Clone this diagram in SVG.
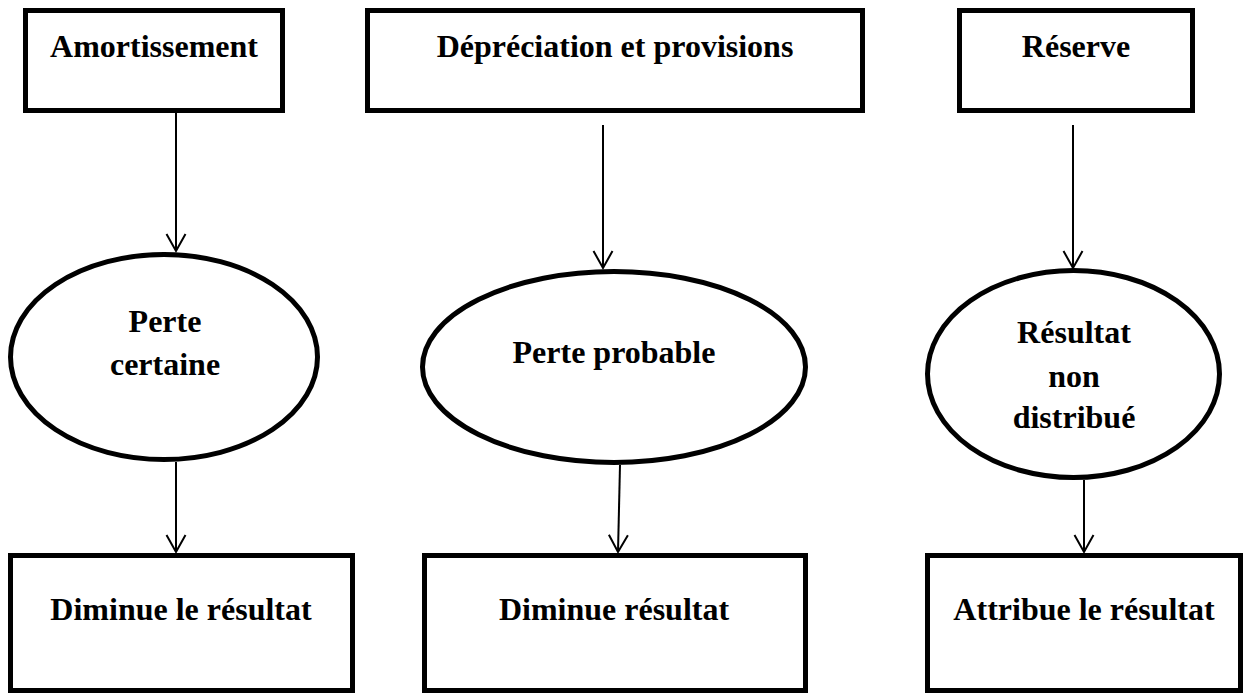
<svg xmlns="http://www.w3.org/2000/svg" width="1246" height="693" viewBox="0 0 1246 693">
  <style>
    .box { fill: #ffffff; stroke: #000000; stroke-width: 5; }
    .oval { fill: #ffffff; stroke: #000000; stroke-width: 5; }
    .lbl { font-family: "Liberation Serif", "Times New Roman", serif; font-weight: bold; font-size: 32px; fill: #000000; text-anchor: middle; }
    .conn { stroke: #000000; stroke-width: 2; fill: none; marker-end: url(#arrow); }
  </style>
  <defs>
    <marker id="arrow" markerUnits="userSpaceOnUse" viewBox="-2 -2 22 23" markerWidth="22" markerHeight="23" refX="17" refY="9.5" orient="auto">
      <path d="M0,0 L17,9.5 L0,19" fill="none" stroke="#000000" stroke-width="2"/>
    </marker>
  </defs>
  <rect width="1246" height="693" fill="#ffffff"/>

  <g id="connectors">
    <line class="conn" x1="176" y1="113" x2="176" y2="251"/>
    <line class="conn" x1="603" y1="125" x2="603" y2="268"/>
    <line class="conn" x1="1073" y1="125" x2="1073" y2="268"/>
    <line class="conn" x1="176" y1="462" x2="176" y2="552"/>
    <line class="conn" x1="620" y1="465" x2="618" y2="552"/>
    <line class="conn" x1="1084" y1="480" x2="1084" y2="552"/>
  </g>

  <g id="node-amortissement">
    <rect class="box" x="25.5" y="10.5" width="257" height="100"/>
    <text class="lbl" x="154" y="57">Amortissement</text>
  </g>
  <g id="node-depreciation">
    <rect class="box" x="367.5" y="10.5" width="495" height="100"/>
    <text class="lbl" x="615" y="57">Dépréciation et provisions</text>
  </g>
  <g id="node-reserve">
    <rect class="box" x="959.5" y="10.5" width="233" height="100"/>
    <text class="lbl" x="1076" y="57">Réserve</text>
  </g>

  <g id="node-perte-certaine">
    <ellipse class="oval" cx="164" cy="357" rx="153.5" ry="102.5"/>
    <text class="lbl" x="165" y="332">Perte</text>
    <text class="lbl" x="165" y="375">certaine</text>
  </g>
  <g id="node-perte-probable">
    <ellipse class="oval" cx="614" cy="367" rx="191.5" ry="95.5"/>
    <text class="lbl" x="614" y="363">Perte probable</text>
  </g>
  <g id="node-resultat-non-distribue">
    <ellipse class="oval" cx="1073.5" cy="374" rx="146" ry="103.5"/>
    <text class="lbl" x="1074" y="343">Résultat</text>
    <text class="lbl" x="1074" y="387">non</text>
    <text class="lbl" x="1074" y="428">distribué</text>
  </g>

  <g id="node-diminue-le-resultat">
    <rect class="box" x="10.5" y="555.5" width="342" height="135"/>
    <text class="lbl" x="181" y="620">Diminue le résultat</text>
  </g>
  <g id="node-diminue-resultat">
    <rect class="box" x="424.5" y="555.5" width="381" height="135"/>
    <text class="lbl" x="614" y="620">Diminue résultat</text>
  </g>
  <g id="node-attribue-le-resultat">
    <rect class="box" x="927.5" y="555.5" width="313" height="135"/>
    <text class="lbl" x="1084" y="620">Attribue le résultat</text>
  </g>
</svg>
